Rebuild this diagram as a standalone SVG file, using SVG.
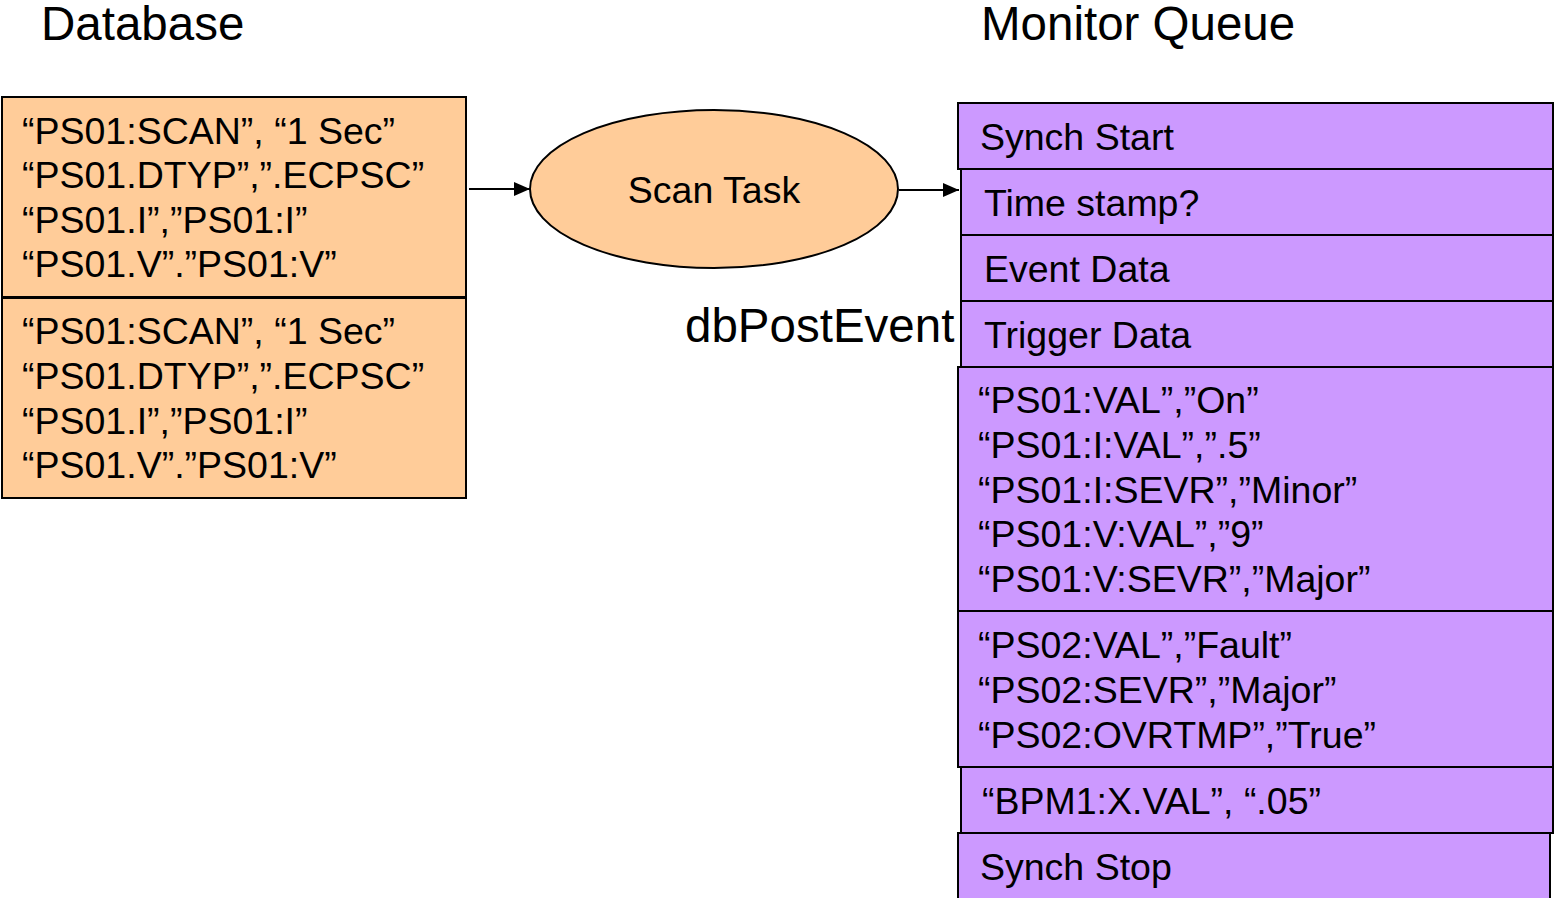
<svg xmlns="http://www.w3.org/2000/svg" width="1554" height="898" viewBox="0 0 1554 898">
<style>
text{font-family:"Liberation Sans",Arial,sans-serif;fill:#000}
.t{font-size:37.5px}
.h{font-size:47.5px}
.db{fill:#FFCC99;stroke:#000;stroke-width:2}
.q{fill:#CC99FF;stroke:#000;stroke-width:2}
.c{stroke:#000;stroke-width:2;fill:none;marker-end:url(#ah)}
</style>
<defs>
<marker id="ah" markerWidth="16" markerHeight="14" refX="16" refY="7" orient="auto" markerUnits="userSpaceOnUse" viewBox="0 0 16 14">
<path d="M0,0 L16,7 L0,14 Z" fill="#000"/>
</marker>
</defs>
<rect width="1554" height="898" fill="#fff"/>
<text class="h" x="41" y="40">Database</text>
<text class="h" x="981" y="40">Monitor Queue</text>
<g id="db1">
<rect class="db" x="2" y="97" width="464" height="200"/>
<text class="t" x="22" y="144">“PS01:SCAN”, “1 Sec”</text>
<text class="t" x="22" y="188">“PS01.DTYP”,”.ECPSC”</text>
<text class="t" x="22" y="233">“PS01.I”,”PS01:I”</text>
<text class="t" x="22" y="277">“PS01.V”.”PS01:V”</text>
</g>
<g id="db2">
<rect class="db" x="2" y="298" width="464" height="200"/>
<text class="t" x="22" y="344">“PS01:SCAN”, “1 Sec”</text>
<text class="t" x="22" y="389">“PS01.DTYP”,”.ECPSC”</text>
<text class="t" x="22" y="434">“PS01.I”,”PS01:I”</text>
<text class="t" x="22" y="478">“PS01.V”.”PS01:V”</text>
</g>
<g id="scan">
<ellipse cx="714" cy="189" rx="184" ry="79" fill="#FFCC99" stroke="#000" stroke-width="2"/>
<text class="t" x="714" y="203" text-anchor="middle">Scan Task</text>
</g>
<text class="h" x="685" y="342">dbPostEvent</text>
<g id="q1"><rect class="q" x="958" y="103" width="595" height="66"/><text class="t" x="980" y="150">Synch Start</text></g>
<g id="q2"><rect class="q" x="961" y="169" width="592" height="66"/><text class="t" x="984" y="216">Time stamp?</text></g>
<g id="q3"><rect class="q" x="961" y="235" width="592" height="66"/><text class="t" x="984" y="282">Event Data</text></g>
<g id="q4"><rect class="q" x="961" y="301" width="592" height="66"/><text class="t" x="984" y="348">Trigger Data</text></g>
<g id="q5"><rect class="q" x="958" y="367" width="595" height="244"/>
<text class="t" x="978" y="413">“PS01:VAL”,”On”</text>
<text class="t" x="978" y="458">“PS01:I:VAL”,”.5”</text>
<text class="t" x="978" y="503">“PS01:I:SEVR”,”Minor”</text>
<text class="t" x="978" y="547">“PS01:V:VAL”,”9”</text>
<text class="t" x="978" y="592">“PS01:V:SEVR”,”Major”</text>
</g>
<g id="q6"><rect class="q" x="958" y="611" width="595" height="156"/>
<text class="t" x="978" y="658">“PS02:VAL”,”Fault”</text>
<text class="t" x="978" y="703">“PS02:SEVR”,”Major”</text>
<text class="t" x="978" y="748">“PS02:OVRTMP”,”True”</text>
</g>
<g id="q7"><rect class="q" x="961" y="767" width="592" height="66"/><text class="t" x="982" y="814">“BPM1:X.VAL”, “.05”</text></g>
<g id="q8"><rect class="q" x="958" y="833" width="592" height="70"/><text class="t" x="980" y="880">Synch Stop</text></g>
<g id="connectors">
<line class="c" x1="469" y1="189" x2="530" y2="189"/>
<line class="c" x1="899" y1="190" x2="959" y2="190"/>
</g>
</svg>
